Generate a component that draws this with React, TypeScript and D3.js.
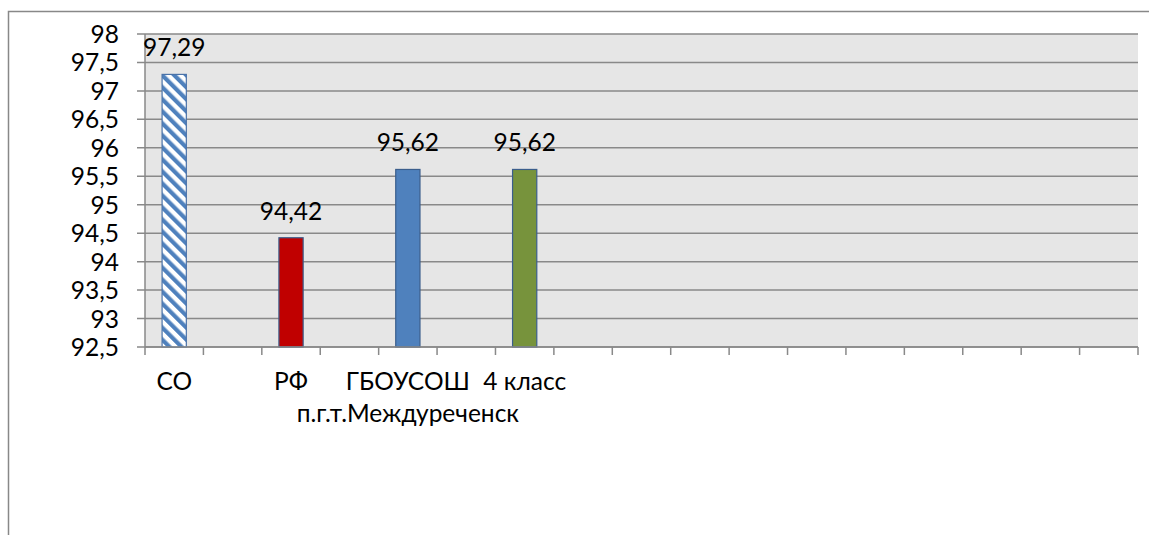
import React from "react";
import * as d3 from "d3";

const categories: string[] = [
  "СО", "", "РФ", "", "ГБОУСОШ п.г.т.Междуреченск", "", "4 класс", "",
  "", "", "", "", "", "", "", "", "",
];
const values: (number | null)[] = [
  97.29, null, 94.42, null, 95.62, null, 95.62, null,
  null, null, null, null, null, null, null, null, null,
];
const barFills: (string | null)[] = [
  "url(#hatch)", null, "#C00000", null, "#4F81BD", null, "#77933C", null,
  null, null, null, null, null, null, null, null, null,
];
const yTicks: number[] = [92.5, 93, 93.5, 94, 94.5, 95, 95.5, 96, 96.5, 97, 97.5, 98];

const W = 1149;
const H = 535;
const plot = { left: 145, right: 1138, top: 34, bottom: 347 };
const FONT = "Lato, 'Open Sans', sans-serif";
const FS = 24.5;

const fmt = (v: number) => String(v).replace(".", ",");

function wrapLabel(s: string): string[] {
  if (s === "ГБОУСОШ п.г.т.Междуреченск") return s.split(" ");
  return [s];
}

export default function App() {
  const idx = categories.map((_, i) => String(i));
  const x = d3.scaleBand<string>().domain(idx).range([plot.left, plot.right]).padding(0);
  const y = d3.scaleLinear().domain([92.5, 98]).range([plot.bottom, plot.top]);
  const bw = x.bandwidth();
  const barW = bw * 0.415;
  const grid = "#898989";

  const tickXs = idx.map((d) => x(d) as number).concat([plot.right]);

  return (
    <svg
      width={W}
      height={H}
      style={{ position: "absolute", left: 0, top: 0, background: "#fff" }}
      fontFamily={FONT}
    >
      <defs>
        <pattern
          id="hatch"
          width={8.5}
          height={8.5}
          patternUnits="userSpaceOnUse"
          patternTransform="rotate(-45)"
        >
          <rect x={0} y={0} width={8.5} height={8.5} fill="#ffffff" />
          <rect x={0} y={0} width={4.2} height={8.5} fill="#4F81BD" />
        </pattern>
      </defs>

      {/* outer chart frame */}
      <path d={`M8.5,${H} V11.5 H${W}`} fill="none" stroke="#888" strokeWidth={1.5} />

      {/* plot area */}
      <rect
        x={plot.left}
        y={plot.top}
        width={plot.right - plot.left}
        height={plot.bottom - plot.top}
        fill="#E6E6E6"
      />

      {/* gridlines */}
      {yTicks.map((t) => (
        <line
          key={"g" + t}
          x1={plot.left - 8}
          x2={plot.right}
          y1={y(t)}
          y2={y(t)}
          stroke={grid}
          strokeWidth={1.5}
        />
      ))}

      {/* y axis line */}
      <line x1={plot.left} x2={plot.left} y1={plot.top} y2={plot.bottom} stroke={grid} strokeWidth={1.5} />

      {/* y tick labels */}
      {yTicks.map((t) => (
        <text
          key={"yl" + t}
          x={119}
          y={y(t) + 9}
          textAnchor="end"
          fontSize={FS}
          fill="#000"
        >
          {fmt(t)}
        </text>
      ))}

      {/* bars */}
      {values.map((v, i) =>
        v == null ? null : (
          <rect
            key={"b" + i}
            x={(x(String(i)) as number) + bw / 2 - barW / 2}
            y={y(v)}
            width={barW}
            height={plot.bottom - y(v)}
            fill={barFills[i] as string}
            stroke={i === 0 ? "#4A72A8" : "#3B5E8C"}
            strokeWidth={1.2}
          />
        )
      )}

      {/* x axis line and ticks */}
      <line x1={plot.left} x2={plot.right} y1={plot.bottom} y2={plot.bottom} stroke={grid} strokeWidth={1.5} />
      {tickXs.map((tx, i) => (
        <line
          key={"xt" + i}
          x1={tx}
          x2={tx}
          y1={plot.bottom}
          y2={plot.bottom + 8}
          stroke={grid}
          strokeWidth={1.5}
        />
      ))}

      {/* data labels */}
      {values.map((v, i) =>
        v == null ? null : (
          <text
            key={"dl" + i}
            x={(x(String(i)) as number) + bw / 2}
            y={y(v) - 18}
            textAnchor="middle"
            fontSize={FS}
            fill="#000"
          >
            {fmt(v)}
          </text>
        )
      )}

      {/* category labels */}
      {categories.map((c, i) =>
        c === "" ? null : (
          <text
            key={"cl" + i}
            x={(x(String(i)) as number) + bw / 2}
            y={390}
            textAnchor="middle"
            fontSize={FS}
            fill="#000"
          >
            {wrapLabel(c).map((line, j) => (
              <tspan key={j} x={(x(String(i)) as number) + bw / 2} dy={j === 0 ? 0 : 32}>
                {line}
              </tspan>
            ))}
          </text>
        )
      )}
    </svg>
  );
}
